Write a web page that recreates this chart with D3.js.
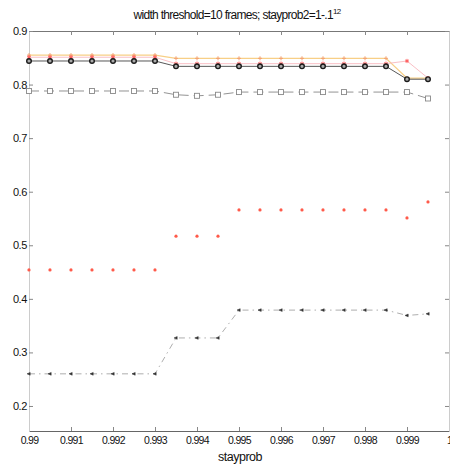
<!DOCTYPE html>
<html>
<head>
<meta charset="utf-8">
<script src="https://cdn.jsdelivr.net/npm/d3@7"></script>
<style>
  html, body { margin: 0; padding: 0; background: #fff; }
  svg { display: block; font-family: "Liberation Sans", Arial, sans-serif; }
</style>
</head>
<body>
<svg id="chart" width="450" height="466"></svg>
<script>
// stay probabilities on the x axis
const stayprob = [0.99, 0.9905, 0.991, 0.9915, 0.992, 0.9925, 0.993, 0.9935, 0.994, 0.9945,
                  0.995, 0.9955, 0.996, 0.9965, 0.997, 0.9975, 0.998, 0.9985, 0.999, 0.9995];

// one array per curve
const orangePlus = [0.855, 0.855, 0.855, 0.855, 0.855, 0.855, 0.855, 0.849, 0.849, 0.849,
                    0.849, 0.849, 0.849, 0.849, 0.849, 0.849, 0.849, 0.849, 0.812, 0.812];
const redStar    = [0.851, 0.851, 0.851, 0.851, 0.851, 0.851, 0.851, 0.839, 0.839, 0.839,
                    0.839, 0.839, 0.839, 0.839, 0.839, 0.839, 0.839, 0.839, 0.844, 0.812];
const blackCircle= [0.844, 0.844, 0.844, 0.844, 0.844, 0.844, 0.844, 0.834, 0.834, 0.834,
                    0.834, 0.834, 0.834, 0.834, 0.834, 0.834, 0.834, 0.834, 0.810, 0.810];
const graySquare = [0.788, 0.788, 0.788, 0.788, 0.788, 0.788, 0.788, 0.781, 0.779, 0.781,
                    0.786, 0.786, 0.786, 0.786, 0.786, 0.786, 0.786, 0.786, 0.786, 0.774];
const redDot     = [0.454, 0.454, 0.454, 0.454, 0.454, 0.454, 0.454, 0.517, 0.517, 0.517,
                    0.566, 0.566, 0.566, 0.566, 0.566, 0.566, 0.566, 0.566, 0.551, 0.581];
const darkDashDot= [0.260, 0.260, 0.260, 0.260, 0.260, 0.260, 0.260, 0.327, 0.327, 0.327,
                    0.379, 0.379, 0.379, 0.379, 0.379, 0.379, 0.379, 0.379, 0.369, 0.372];

const xTicks = [0.99, 0.991, 0.992, 0.993, 0.994, 0.995, 0.996, 0.997, 0.998, 0.999, 1.0];
const yTicks = [0.2, 0.3, 0.4, 0.5, 0.6, 0.7, 0.8, 0.9];

const svg = d3.select("#chart");
const W = 450, H = 466;
const m = { left: 29, right: 1, top: 31, bottom: 35 };
const x = d3.scaleLinear().domain([0.99, 1.0]).range([m.left, W - m.right]);
const y = d3.scaleLinear().domain([0.1533, 0.9]).range([H - m.bottom, m.top]);

const fmt = v => String(+v.toFixed(3));

// box with inward ticks on every side
const gB = svg.append("g").attr("transform", `translate(0,${H - m.bottom})`)
  .call(d3.axisBottom(x).tickValues(xTicks).tickFormat(fmt).tickSizeInner(-4).tickSizeOuter(0).tickPadding(6));
const gT = svg.append("g").attr("transform", `translate(0,${m.top})`)
  .call(d3.axisTop(x).tickValues(xTicks).tickFormat("").tickSizeInner(-4).tickSizeOuter(0));
const gL = svg.append("g").attr("transform", `translate(${m.left},0)`)
  .call(d3.axisLeft(y).tickValues(yTicks).tickFormat(fmt).tickSizeInner(-4).tickSizeOuter(0).tickPadding(2));
const gR = svg.append("g").attr("transform", `translate(${W - m.right},0)`)
  .call(d3.axisRight(y).tickValues(yTicks).tickFormat("").tickSizeInner(-4).tickSizeOuter(0));

gB.select(".domain").attr("stroke", "#666");
gT.select(".domain").attr("stroke", "#777");
gL.select(".domain").attr("stroke", "#ccc");
gR.select(".domain").attr("stroke", "#ccc");
[gB, gT, gL, gR].forEach(g => {
  g.selectAll(".tick line").attr("stroke", "#888");
  g.selectAll("text").attr("fill", "#111").attr("font-size", 10.5).attr("letter-spacing", -0.7);
});
gL.selectAll("text").attr("font-size", 11).attr("letter-spacing", -0.4);

const pts = vals => stayprob.map((s, i) => [x(s), y(vals[i])]);
const line = d3.line();

// orange curve with plus markers
svg.append("path").attr("d", line(pts(orangePlus)))
  .attr("fill", "none").attr("stroke", "#f8cf86").attr("stroke-width", 1.3);
svg.append("g").selectAll("path").data(pts(orangePlus)).join("path")
  .attr("d", d => `M${d[0]-2},${d[1]}h4M${d[0]},${d[1]-2}v4`)
  .attr("stroke", "#f3a070").attr("stroke-width", 1);

// red curve with star markers
svg.append("path").attr("d", line(pts(redStar)))
  .attr("fill", "none").attr("stroke", "#f8b8be").attr("stroke-width", 0.9);
svg.append("g").selectAll("path").data(pts(redStar)).join("path")
  .attr("d", d3.symbol(d3.symbolAsterisk, 12))
  .attr("transform", d => `translate(${d[0]},${d[1]})`)
  .attr("stroke", "#ff5a5a").attr("stroke-width", 1).attr("fill", "none");

// black curve with circles
svg.append("path").attr("d", line(pts(blackCircle)))
  .attr("fill", "none").attr("stroke", "#444").attr("stroke-width", 0.9);
svg.append("g").selectAll("circle").data(pts(blackCircle)).join("circle")
  .attr("cx", d => d[0]).attr("cy", d => d[1]).attr("r", 2.3)
  .attr("fill", "#aaa").attr("stroke", "#1a1a1a").attr("stroke-width", 1.4);

// gray dashed curve with squares
svg.append("path").attr("d", line(pts(graySquare)))
  .attr("fill", "none").attr("stroke", "#777").attr("stroke-width", 0.8)
  .attr("stroke-dasharray", "10,5");
svg.append("g").selectAll("rect").data(pts(graySquare)).join("rect")
  .attr("x", d => d[0] - 2.5).attr("y", d => d[1] - 2.5).attr("width", 5).attr("height", 5)
  .attr("fill", "#fff").attr("stroke", "#888").attr("stroke-width", 0.9);

// red points
svg.append("g").selectAll("circle").data(pts(redDot)).join("circle")
  .attr("cx", d => d[0]).attr("cy", d => d[1]).attr("r", 1.6)
  .attr("fill", "#ff5a4a");

// dark dash-dot curve with left triangles
svg.append("path").attr("d", line(pts(darkDashDot)))
  .attr("fill", "none").attr("stroke", "#999").attr("stroke-width", 0.8)
  .attr("stroke-dasharray", "6,4,1.5,4");
svg.append("g").selectAll("path").data(pts(darkDashDot)).join("path")
  .attr("d", d => `M${d[0]-2},${d[1]}L${d[0]+1.2},${d[1]-1.4}L${d[0]+1.2},${d[1]+1.4}Z`)
  .attr("fill", "#333").attr("stroke", "#333").attr("stroke-width", 0.5);

// title
const title = svg.append("text").attr("x", 237).attr("y", 19)
  .attr("text-anchor", "middle").attr("font-size", 12).attr("letter-spacing", -0.7).attr("fill", "#111");
title.append("tspan").text("width threshold=10 frames; stayprob2=1-.1");
title.append("tspan").attr("dy", -5).attr("font-size", 8).text("12");

// x label
svg.append("text").attr("x", 240).attr("y", 461).attr("text-anchor", "middle")
  .attr("font-size", 12.5).attr("letter-spacing", -0.5).attr("fill", "#111").text("stayprob");
</script>
</body>
</html>
